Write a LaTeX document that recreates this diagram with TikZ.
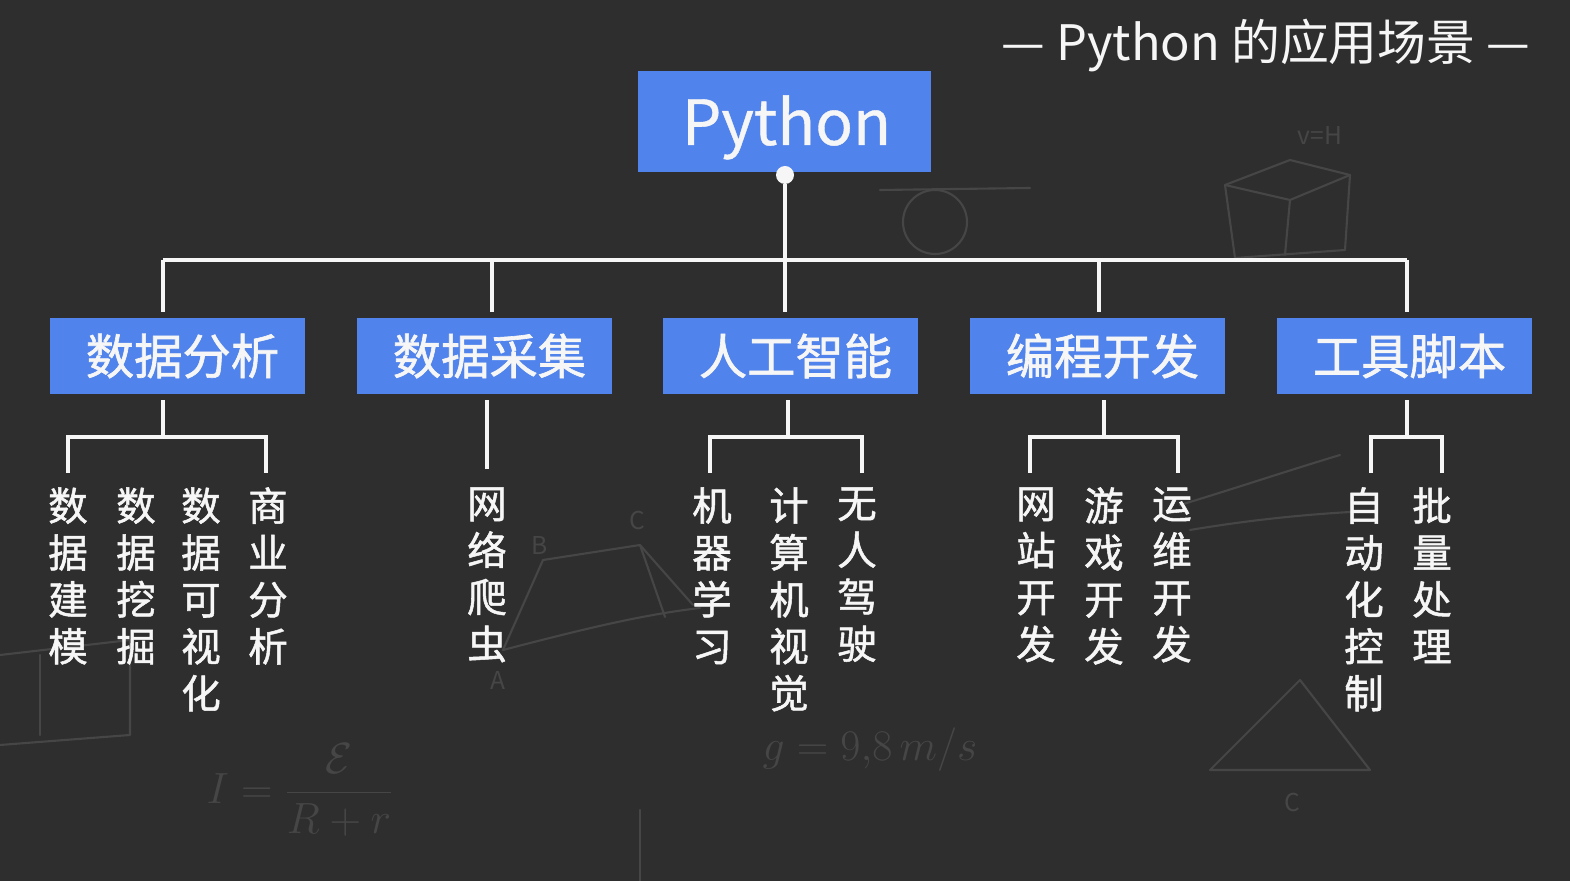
\documentclass[tikz,border=0pt]{standalone}
\usepackage{fontspec}
\setmainfont{Noto Sans CJK SC}
\newfontfamily\medfont{Noto Sans CJK SC}[FakeBold=1.3]
\newfontfamily\pyfont{Noto Sans CJK SC}[FakeBold=0.6]
\usetikzlibrary{calc}
\definecolor{bg}{RGB}{46,46,46}
\definecolor{boxblue}{RGB}{80,131,235}
\definecolor{ink}{RGB}{246,246,246}
\definecolor{chalk}{RGB}{70,70,70}
\begin{document}
\begin{tikzpicture}[x=0.02cm,y=-0.02cm,
  conn/.style={draw=ink,line width=2.4pt},
  pybox/.style={fill=boxblue,minimum width=5.86cm,minimum height=2.02cm,inner sep=0pt,text=ink,font=\pyfont\fontsize{35.5}{40}\selectfont},
  catbox/.style={fill=boxblue,minimum width=5.1cm,minimum height=1.52cm,inner sep=0pt,text=ink,font=\medfont\fontsize{27.5}{30}\selectfont},
  leaf/.style={anchor=north,inner sep=0pt,align=center,text=ink,font=\medfont\fontsize{22.5}{26.7}\selectfont},
  sketch/.style={draw=chalk,line width=1.2pt,line cap=round,line join=round},
  sketchtext/.style={text=chalk,inner sep=0pt}]
\useasboundingbox (0,0) rectangle (1570,881);
\fill[bg] (0,0) rectangle (1570,881);

% faint chalk sketches in the background
\draw[sketch] (935,222) circle (32);
\draw[sketch] (880,190) -- (1030,188);
\draw[sketch] (1225,185) -- (1290,160) -- (1350,175) -- (1345,250) -- (1235,258) -- cycle;
\draw[sketch] (1225,185) -- (1290,200) -- (1350,175);
\draw[sketch] (1290,200) -- (1285,255);
\node[sketchtext,font=\itshape\fontsize{14}{14}\selectfont] (sk1) at (1320,135) {v=H};
\draw[sketch] (1210,770) -- (1300,680) -- (1370,770) -- cycle;
\node[sketchtext,font=\itshape\fontsize{14}{14}\selectfont] (sk2) at (1292,802) {C};
\draw[sketch] (503,650) -- (543,560) -- (640,545) -- (693,605);
\draw[sketch] (503,650) .. controls (580,630) and (640,615) .. (700,608);
\draw[sketch] (640,545) -- (665,617);
\node[sketchtext,font=\itshape\fontsize{14}{14}\selectfont] (sk3) at (498,680) {A};
\node[sketchtext,font=\itshape\fontsize{14}{14}\selectfont] (sk4) at (540,545) {B};
\node[sketchtext,font=\itshape\fontsize{14}{14}\selectfont] (sk5) at (637,520) {C};
\node[sketchtext,font=\fontsize{40}{40}\selectfont] (sk6) at (870,750) {$g=9{,}8\,m/s$};
\node[sketchtext,font=\fontsize{34}{34}\selectfont] (sk7) at (300,790) {$\displaystyle I=\frac{\mathcal{E}}{R+r}$};
\draw[sketch] (0,655) -- (130,640) -- (130,735) -- (0,745);
\draw[sketch] (40,655) -- (40,735);
\draw[sketch] (1180,505) .. controls (1230,490) and (1290,470) .. (1340,455);
\draw[sketch] (1190,530) .. controls (1250,520) and (1300,515) .. (1350,512);
\draw[sketch] (640,810) -- (640,881);

% title
\node[text=ink,inner sep=0pt,font=\fontsize{27.8}{30}\selectfont] (title) at (1266,46) {— Python 的应用场景 —};

% root
\node[pybox] (py) at (784.5,121.5) {\hspace*{0.08cm}\raisebox{-0.47cm}[0pt][0pt]{Python}};
\node[circle,fill=ink,inner sep=0pt,minimum size=0.36cm] (dot) at (785,175) {};

% categories
\node[catbox] (c1) at (177.5,356) {\hspace*{0.2cm}数据分析};
\node[catbox] (c2) at (484.5,356) {\hspace*{0.2cm}数据采集};
\node[catbox] (c3) at (790.5,356) {\hspace*{0.2cm}人工智能};
\node[catbox] (c4) at (1097.5,356) {\hspace*{0.2cm}编程开发};
\node[catbox] (c5) at (1404.5,356) {\hspace*{0.2cm}工具脚本};

% bus
\coordinate (j1) at (163,260);
\coordinate (j2) at (492,260);
\coordinate (j3) at (785,260);
\coordinate (j4) at (1099,260);
\coordinate (j5) at (1407,260);
\draw[conn] (dot) -- (j3);
\draw[conn] (j1) -- (j5);
\foreach \i in {1,...,5} \draw[conn,shorten >=0.12cm] (j\i) -- (j\i |- c\i.north);

% leaves
\node[leaf] (a1) at (68,487) {数\\据\\建\\模};
\node[leaf] (a2) at (136,487) {数\\据\\挖\\掘};
\node[leaf] (a3) at (201,487) {数\\据\\可\\视\\化};
\node[leaf] (a4) at (268,487) {商\\业\\分\\析};
\node[leaf] (b1) at (487,487) {网\\络\\爬\\虫};
\node[leaf] (d1) at (712,487) {机\\器\\学\\习};
\node[leaf] (d2) at (789,487) {计\\算\\机\\视\\觉};
\node[leaf] (d3) at (857,487) {无\\人\\驾\\驶};
\node[leaf] (e1) at (1036,487) {网\\站\\开\\发};
\node[leaf] (e2) at (1104,487) {游\\戏\\开\\发};
\node[leaf] (e3) at (1172,487) {运\\维\\开\\发};
\node[leaf] (f1) at (1364,487) {自\\动\\化\\控\\制};
\node[leaf] (f2) at (1432,487) {批\\量\\处\\理};

% lower connectors
\coordinate (k1) at (163,437);
\coordinate (k3) at (788,437);
\coordinate (k4) at (1104,437);
\coordinate (k5) at (1407,437);
\coordinate (l1) at (68,473);  \coordinate (r1) at (266,473);
\coordinate (l3) at (710,473); \coordinate (r3) at (862,473);
\coordinate (l4) at (1030,473); \coordinate (r4) at (1178,473);
\coordinate (l5) at (1371,473); \coordinate (r5) at (1442,473);
\draw[conn,shorten <=0.12cm] (c1.south -| k1) -- (k1);
\draw[conn] (l1) |- (k1) -| (r1);
\draw[conn,shorten <=0.12cm,shorten >=0.36cm] (c2.south -| b1.north) -- (b1.north);
\draw[conn,shorten <=0.12cm] (c3.south -| k3) -- (k3);
\draw[conn] (l3) |- (k3) -| (r3);
\draw[conn,shorten <=0.12cm] (c4.south -| k4) -- (k4);
\draw[conn] (l4) |- (k4) -| (r4);
\draw[conn,shorten <=0.12cm] (c5.south -| k5) -- (k5);
\draw[conn] (l5) |- (k5) -| (r5);
\end{tikzpicture}
\end{document}
